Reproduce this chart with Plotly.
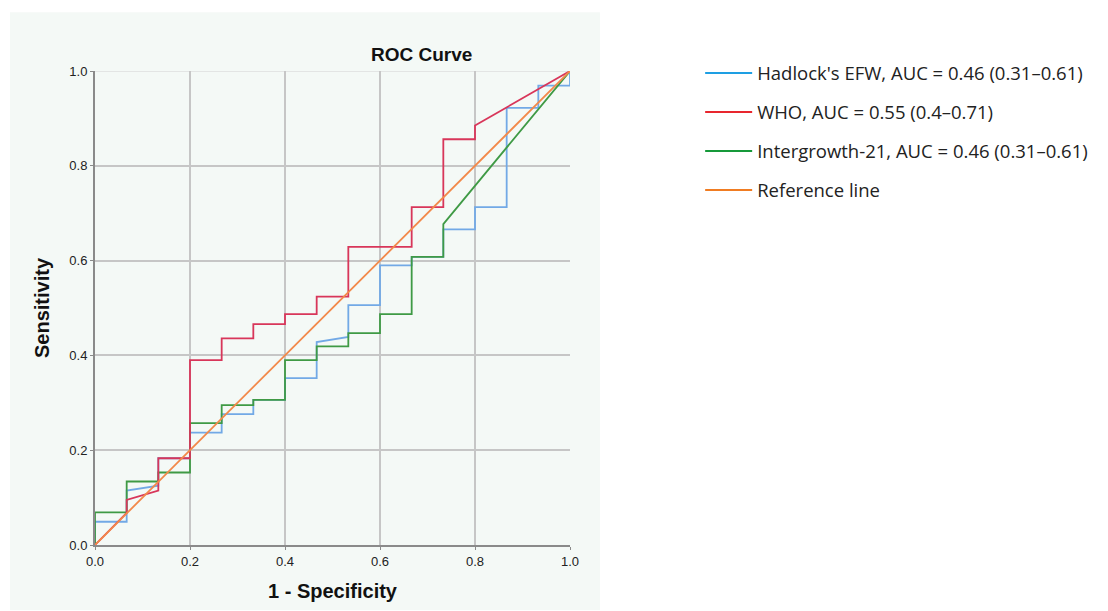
import plotly.graph_objects as go

# ROC curve vertices (1 - specificity, sensitivity)
hadlock_fpr = [0, 0, 0.0667, 0.0667, 0.1333, 0.1333, 0.2, 0.2, 0.2667, 0.2667, 0.3333, 0.3333, 0.4, 0.4,
               0.4667, 0.4667, 0.5333, 0.5333, 0.6, 0.6, 0.6667, 0.6667, 0.7333, 0.7333, 0.8, 0.8,
               0.8667, 0.8667, 0.9333, 0.9333, 1.0, 1.0]
hadlock_tpr = [0, 0.049, 0.049, 0.115, 0.125, 0.183, 0.183, 0.237, 0.237, 0.276, 0.276, 0.306, 0.306, 0.352,
               0.352, 0.428, 0.439, 0.506, 0.506, 0.590, 0.590, 0.608, 0.608, 0.666, 0.666, 0.713,
               0.713, 0.922, 0.922, 0.969, 0.969, 1.0]

who_fpr = [0, 0.0667, 0.0667, 0.1333, 0.1333, 0.2, 0.2, 0.2667, 0.2667, 0.3333, 0.3333, 0.4, 0.4,
           0.4667, 0.4667, 0.5333, 0.5333, 0.6667, 0.6667, 0.7333, 0.7333, 0.8, 0.8, 1.0]
who_tpr = [0, 0.068, 0.095, 0.115, 0.183, 0.183, 0.390, 0.390, 0.436, 0.436, 0.466, 0.466, 0.487,
           0.487, 0.524, 0.524, 0.629, 0.629, 0.713, 0.713, 0.856, 0.856, 0.885, 1.0]

ig_fpr = [0, 0, 0.0667, 0.0667, 0.1333, 0.1333, 0.2, 0.2, 0.2667, 0.2667, 0.3333, 0.3333, 0.4, 0.4,
          0.4667, 0.4667, 0.5333, 0.5333, 0.6, 0.6, 0.6667, 0.6667, 0.7333, 0.7333, 1.0]
ig_tpr = [0, 0.069, 0.069, 0.134, 0.134, 0.153, 0.153, 0.257, 0.257, 0.295, 0.295, 0.306, 0.306, 0.390,
          0.390, 0.419, 0.419, 0.447, 0.447, 0.487, 0.487, 0.608, 0.608, 0.677, 1.0]

ref_fpr = [0, 1]
ref_tpr = [0, 1]

names = ["Hadlock's EFW, AUC = 0.46 (0.31–0.61)",
         "WHO, AUC = 0.55 (0.4–0.71)",
         "Intergrowth-21, AUC = 0.46 (0.31–0.61)",
         "Reference line"]
line_colors = ["#72a9e6", "#d8365a", "#3f9a45", "#f2894a"]
legend_colors = ["#1e9fe3", "#e8262e", "#16993a", "#f07c22"]
tick_vals = [0.0, 0.2, 0.4, 0.6, 0.8, 1.0]
tick_text = ["0.0", "0.2", "0.4", "0.6", "0.8", "1.0"]

series = [(hadlock_fpr, hadlock_tpr), (who_fpr, who_tpr), (ig_fpr, ig_tpr), (ref_fpr, ref_tpr)]

fig = go.Figure()
draw_order = [0, 2, 1, 3]
for i in draw_order:
    fx, ty = series[i]
    fig.add_trace(go.Scatter(x=fx, y=ty, mode="lines", showlegend=False,
                             line=dict(color=line_colors[i], width=1.8)))
for i in range(4):
    fig.add_trace(go.Scatter(x=[None], y=[None], mode="lines", name=names[i],
                             legendgroup=f"g{i}", legendrank=i + 1,
                             line=dict(color=legend_colors[i], width=2)))

bg = "#f4f9f6"
fig.add_shape(type="rect", xref="paper", yref="paper", x0=-0.179, x1=1.063, y0=-0.137, y1=1.124,
              fillcolor=bg, line=dict(width=0), layer="below")

narrow = "Liberation Sans Narrow, Liberation Sans, Arial"
axis_common = dict(range=[0, 1], tickvals=tick_vals, ticktext=tick_text,
                   showgrid=True, gridcolor="#c6c6c6", gridwidth=1.5,
                   zeroline=False, showline=True, linecolor="#8a8a8a", linewidth=2,
                   ticks="outside", ticklen=3, tickcolor="#8a8a8a",
                   tickfont=dict(family=narrow, size=13, color="#222"), automargin=False)

fig.update_layout(
    width=1100, height=603,
    margin=dict(l=87, r=538, t=63, b=66),
    paper_bgcolor="white", plot_bgcolor=bg,
    xaxis=dict(**axis_common,
               title=dict(text="<b>1 - Specificity</b>", standoff=16,
                          font=dict(family=narrow, size=20, color="#111"))),
    yaxis=dict(**axis_common,
               title=dict(text="<b>Sensitivity</b>", standoff=14,
                          font=dict(family=narrow, size=20, color="#111"))),
    legend=dict(x=1.274, y=1.035, xanchor="left", yanchor="top",
                traceorder="grouped", tracegroupgap=12,
                font=dict(family="Open Sans, Noto Sans, sans-serif", size=18.5, color="#222"),
                bgcolor="rgba(0,0,0,0)", itemwidth=47),
    annotations=[dict(text="<b>ROC Curve</b>", xref="paper", yref="paper",
                      x=(421 - 95) / 475, y=(545 - 55) / 474, xanchor="center", yanchor="middle",
                      showarrow=False,
                      font=dict(family=narrow, size=19, color="#111"))],
)
fig.add_shape(type="line", xref="x", yref="y", x0=0, x1=1, y0=1, y1=1,
              line=dict(color="#dedede", width=1.5), layer="below")

fig.write_html("out.html")
